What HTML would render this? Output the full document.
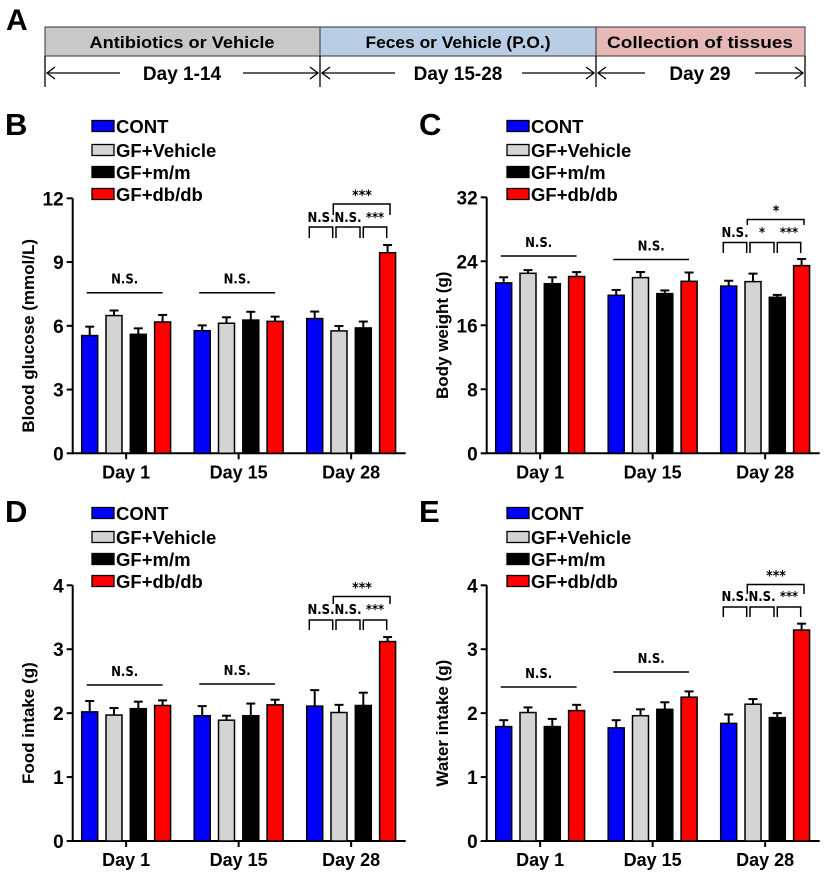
<!DOCTYPE html>
<html><head><meta charset="utf-8">
<style>
html,body{margin:0;padding:0;background:#fff;}
svg{display:block;font-family:"Liberation Sans",Arial,sans-serif;font-weight:bold;}
</style></head>
<body>
<svg id="fig" width="828" height="879" viewBox="0 0 828 879">
  <g>
    <text x="6" y="30" font-size="30">A</text>
    <rect x="45" y="27" width="275" height="29" fill="#c8c8c8" stroke="#333" stroke-width="1"/>
    <rect x="320" y="27" width="276" height="29" fill="#b9cde5" stroke="#333" stroke-width="1"/>
    <rect x="596" y="27" width="209" height="29" fill="#e6b9b8" stroke="#333" stroke-width="1"/>
    <text x="182" y="48" font-size="17" text-anchor="middle" textLength="185" lengthAdjust="spacingAndGlyphs">Antibiotics or Vehicle</text>
    <text x="458" y="48" font-size="17" text-anchor="middle" textLength="185" lengthAdjust="spacingAndGlyphs">Feces or Vehicle (P.O.)</text>
    <text x="700" y="48" font-size="17" text-anchor="middle" textLength="186" lengthAdjust="spacingAndGlyphs">Collection of tissues</text>
    <g stroke="#000" stroke-width="1.3" fill="none">
      <line x1="45" y1="56" x2="45" y2="87"/><line x1="320" y1="56" x2="320" y2="87"/>
      <line x1="596" y1="56" x2="596" y2="87"/><line x1="805" y1="56" x2="805" y2="87"/>
      <line x1="47" y1="73" x2="120" y2="73"/><line x1="243" y1="73" x2="318" y2="73"/>
      <polyline points="55,67 47,73 55,79"/><polyline points="310,67 318,73 310,79"/>
      <line x1="322" y1="73" x2="395" y2="73"/><line x1="522" y1="73" x2="594" y2="73"/>
      <polyline points="330,67 322,73 330,79"/><polyline points="586,67 594,73 586,79"/>
      <line x1="598" y1="73" x2="645" y2="73"/><line x1="755" y1="73" x2="803" y2="73"/>
      <polyline points="606,67 598,73 606,79"/><polyline points="795,67 803,73 795,79"/>
    </g>
    <text x="182" y="80" font-size="19" text-anchor="middle">Day 1-14</text>
    <text x="458" y="80" font-size="19" text-anchor="middle">Day 15-28</text>
    <text x="700" y="80" font-size="19" text-anchor="middle">Day 29</text>
  </g>
</svg>
<script>
// ---- data ----
const groups = ["Day 1", "Day 15", "Day 28"];
const seriesNames = ["CONT", "GF+Vehicle", "GF+m/m", "GF+db/db"];
const seriesColors = ["#0000ff", "#d4d4d4", "#000000", "#ff0000"];

const glucoseVals = [[5.54, 6.48, 5.6, 6.18], [5.77, 6.12, 6.27, 6.21], [6.34, 5.76, 5.9, 9.44]];
const glucoseErrs = [[0.42, 0.24, 0.28, 0.33], [0.25, 0.28, 0.39, 0.22], [0.33, 0.23, 0.3, 0.36]];
const glucoseTicks = [0, 3, 6, 9, 12];

const weightVals = [[21.3, 22.5, 21.2, 22.1], [19.75, 21.96, 19.96, 21.5], [20.9, 21.46, 19.5, 23.46]];
const weightErrs = [[0.7, 0.4, 0.8, 0.55], [0.67, 0.7, 0.4, 1.1], [0.67, 1.0, 0.3, 0.83]];
const weightTicks = [0, 8, 16, 24, 32];

const foodVals = [[2.02, 1.97, 2.07, 2.12], [1.96, 1.89, 1.96, 2.13], [2.11, 2.01, 2.12, 3.12]];
const foodErrs = [[0.17, 0.11, 0.11, 0.08], [0.15, 0.07, 0.19, 0.08], [0.25, 0.12, 0.2, 0.07]];
const foodTicks = [0, 1, 2, 3, 4];

const waterVals = [[1.79, 2.01, 1.79, 2.04], [1.77, 1.96, 2.06, 2.25], [1.84, 2.14, 1.93, 3.3]];
const waterErrs = [[0.1, 0.08, 0.12, 0.09], [0.12, 0.1, 0.11, 0.09], [0.14, 0.08, 0.07, 0.1]];
const waterTicks = [0, 1, 2, 3, 4];

const NS = "http://www.w3.org/2000/svg";
const svg = document.getElementById('fig');
const SIGFONT = '"DejaVu Sans Condensed","Liberation Sans",sans-serif';
function mk(tag, attrs, parent) {
  const e = document.createElementNS(NS, tag);
  for (const k in attrs) e.setAttribute(k, attrs[k]);
  parent.appendChild(e);
  return e;
}

function panel(cfg) {
  const g = mk('g', {transform: `translate(${cfg.ox},${cfg.oy})`}, svg);
  
  
  const ax = 72.7, zero = cfg.zero, top = cfg.top, max = cfg.ticks[cfg.ticks.length - 1];
  const y = v => zero - (v / max) * (zero - top);
  const barX = (gi, si) => ax + 9 + gi * 112.5 + si * 24.3;
  const bw = 16;

  const letter = mk('text', {x: 5, y: 25, 'font-size': 31}, g);
  letter.textContent = cfg.letter;
  
  

  // legend
  seriesNames.forEach((n, i) => {
    const ly = [16, 40, 62, 84][i];
    const r = mk('rect', {x: cfg.legX, y: ly - 5.5, width: 22, height: 11, fill: seriesColors[i], stroke: '#000', 'stroke-width': 1.3}, g);
    
    
    const t = mk('text', {x: cfg.legX + 24, y: ly + 7, 'font-size': 18.5}, g);
    t.textContent = n;
    
    
  });

  // axes
  const axes = mk('path', {d: `M${ax},${top} V${zero} H${ax + 333}`, stroke: '#000', 'stroke-width': 2, fill: 'none'}, g);
  
  
  cfg.ticks.forEach(t => {
    const yy = y(t);
    mk('line', {x1: ax - 6, x2: ax, y1: yy, y2: yy, stroke: '#000', 'stroke-width': 2}, g);
    const tl = mk('text', {x: ax - 9, y: yy + 7, 'font-size': 19, 'text-anchor': 'end'}, g);
    tl.textContent = t;
    
    
  });
  groups.forEach((gn, gi) => {
    const cx = barX(gi, 0) + (3 * 24.3 + bw) / 2;
    mk('line', {x1: cx, x2: cx, y1: zero, y2: zero + 6, stroke: '#000', 'stroke-width': 2}, g);
    const xl = mk('text', {x: cx, y: zero + 25, 'font-size': 18, 'text-anchor': 'middle'}, g);
    xl.textContent = gn;
    
    
  });
  const my = (zero + top) / 2 + 10;
  const yt = mk('text', {x: 0, y: 0, 'font-size': 17, 'text-anchor': 'middle', transform: `translate(34,${my}) rotate(-90)`}, g);
  yt.textContent = cfg.ytitle;
  
  

  // bars
  cfg.vals.forEach((row, gi) => row.forEach((v, si) => {
    const x = barX(gi, si), yy = y(v), ye = y(v + cfg.errs[gi][si]);
    const c = x + bw / 2;
    mk('line', {x1: c, x2: c, y1: yy, y2: ye, stroke: '#000', 'stroke-width': 2}, g);
    mk('line', {x1: c - 4.5, x2: c + 4.5, y1: ye, y2: ye, stroke: '#000', 'stroke-width': 2}, g);
    const b = mk('rect', {x: x, y: yy, width: bw, height: zero - yy, fill: seriesColors[si], stroke: '#000', 'stroke-width': 1.5}, g);
    
    
  }));

  // N.S. lines for groups 1 & 2
  cfg.nsY.forEach((ly, gi) => {
    const x1 = barX(gi, 0) + 5, x2 = barX(gi, 3) + 8;
    mk('line', {x1, x2, y1: ly, y2: ly, stroke: '#000', 'stroke-width': 1.5}, g);
    const t = mk('text', {x: (x1 + x2) / 2, y: ly - 9, 'font-size': 13, 'text-anchor': 'middle', 'font-family': SIGFONT}, g);
    t.textContent = 'N.S.';
    
    
  });
  // brackets day 28
  const b = cfg.br;
  const pairs = [[309.3, 332.7], [336, 360], [363.3, 386.7]];
  pairs.forEach(([a, c], i) => {
    mk('path', {d: `M${a},${b.sb} V${b.st} H${c} V${b.sb}`, stroke: '#000', 'stroke-width': 1.5, fill: 'none'}, g);
    const t = mk('text', {x: (a + c) / 2, y: b.lt, 'font-size': 13, 'text-anchor': 'middle', 'font-family': SIGFONT}, g);
    t.textContent = b.labels[i];
    
    
  });
  mk('path', {d: `M333.3,${b.bb} V${b.bt} H390 V${b.bb}`, stroke: '#000', 'stroke-width': 1.5, fill: 'none'}, g);
  const bt = mk('text', {x: 362, y: b.bt - 4, 'font-size': 14, 'text-anchor': 'middle', 'font-family': SIGFONT}, g);
  bt.textContent = b.top;
  
  
}

panel({name: 'panel-b-blood-glucose', letter: 'B', ox: 0, oy: 110, zero: 343.3, top: 88.3, ticks: glucoseTicks, vals: glucoseVals, errs: glucoseErrs, ytitle: 'Blood glucose (mmol/L)', legX: 92,
  nsY: [182.7, 182.7], br: {st: 117, sb: 128, lt: 112, bt: 94, bb: 105, labels: ['N.S.', 'N.S.', '***'], top: '***'}});
panel({name: 'panel-c-body-weight', letter: 'C', ox: 414, oy: 110, zero: 343.3, top: 87.3, ticks: weightTicks, vals: weightVals, errs: weightErrs, ytitle: 'Body weight (g)', legX: 93,
  nsY: [146, 149.5], br: {st: 132.5, sb: 143, lt: 127, bt: 109.5, bb: 115, labels: ['N.S.', '*', '***'], top: '*'}});
panel({name: 'panel-d-food-intake', letter: 'D', ox: 0, oy: 497, zero: 344, top: 88.3, ticks: foodTicks, vals: foodVals, errs: foodErrs, ytitle: 'Food intake (g)', legX: 92,
  nsY: [188, 187], br: {st: 123, sb: 133, lt: 117, bt: 99.5, bb: 107, labels: ['N.S.', 'N.S.', '***'], top: '***'}});
panel({name: 'panel-e-water-intake', letter: 'E', ox: 414, oy: 497, zero: 344, top: 88.3, ticks: waterTicks, vals: waterVals, errs: waterErrs, ytitle: 'Water intake (g)', legX: 93,
  nsY: [190, 175], br: {st: 110, sb: 120, lt: 104, bt: 87.5, bb: 97, labels: ['N.S.', 'N.S.', '***'], top: '***'}});
</script>
</body></html>
